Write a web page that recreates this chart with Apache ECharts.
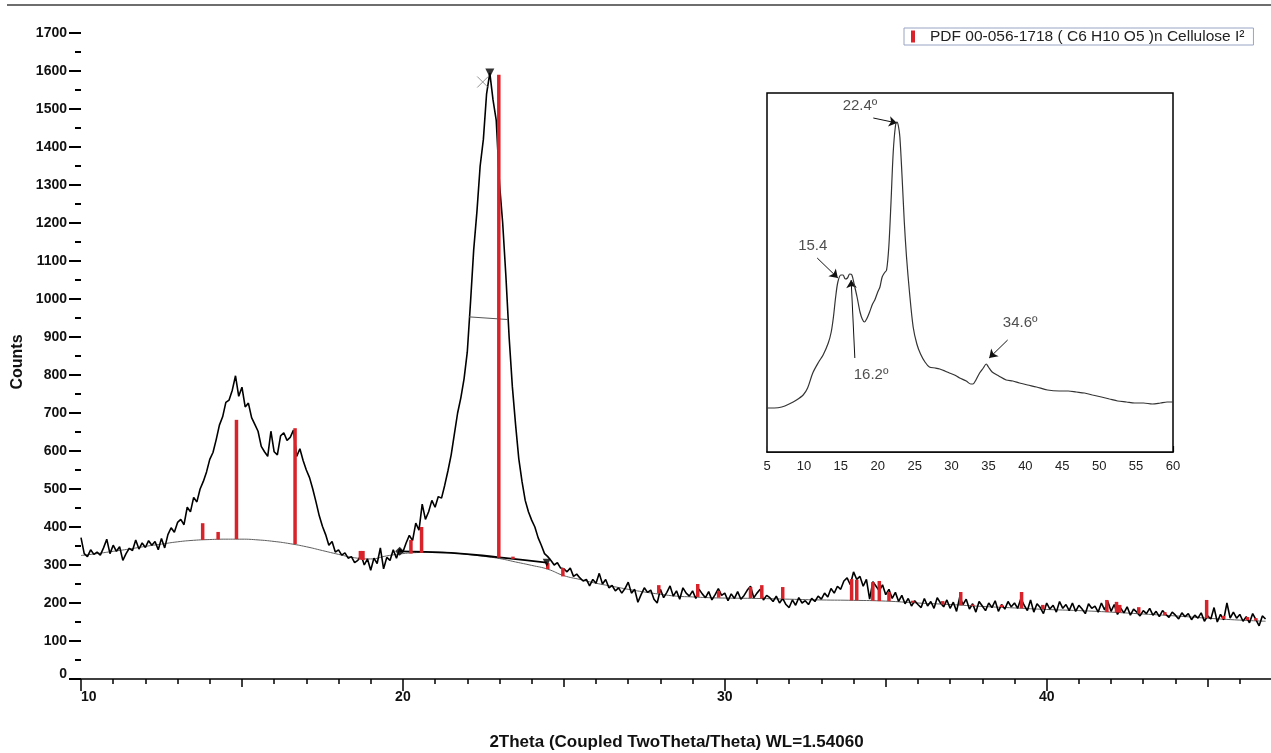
<!DOCTYPE html>
<html><head><meta charset="utf-8">
<script src="https://cdn.jsdelivr.net/npm/echarts@6/dist/echarts.min.js"></script>
<style>html,body{margin:0;padding:0;background:#fff}#c{width:1271px;height:753px}</style>
</head><body><div id="c"></div>
<script>
// ---- main XRD scan: [2theta, counts]
const xrdData = [
[10.0,372],[10.1,330],[10.2,322],[10.3,340],[10.4,328],[10.5,334],[10.6,326],[10.7,345],[10.8,368],[10.9,330],
[11.0,352],[11.1,336],[11.2,348],[11.3,312],[11.4,330],[11.5,344],[11.6,338],[11.7,366],[11.8,342],[11.9,358],
[12.0,346],[12.1,364],[12.2,352],[12.3,362],[12.4,340],[12.5,370],[12.6,345],[12.7,380],[12.8,398],[12.9,386],
[13.0,412],[13.1,420],[13.2,406],[13.3,452],[13.4,440],[13.5,478],[13.6,466],[13.7,500],[13.8,520],[13.9,545],
[14.0,578],[14.1,596],[14.2,630],[14.3,668],[14.4,690],[14.5,728],[14.6,734],[14.7,760],[14.8,798],[14.9,744],
[15.0,768],[15.1,716],[15.2,726],[15.3,688],[15.4,670],[15.5,652],[15.6,612],[15.7,598],[15.8,586],[15.9,652],
[16.0,598],[16.1,590],[16.2,640],[16.3,648],[16.4,628],[16.5,636],[16.6,655],[16.7,586],[16.8,606],[16.9,575],
[17.0,550],[17.1,530],[17.2,500],[17.3,466],[17.4,430],[17.5,402],[17.6,380],[17.7,352],[17.8,362],[17.9,334],
[18.0,340],[18.1,326],[18.2,332],[18.3,318],[18.4,322],[18.5,306],[18.6,312],[18.7,326],[18.8,300],[18.9,316],
[19.0,286],[19.1,318],[19.2,304],[19.3,345],[19.4,290],[19.5,320],[19.6,312],[19.7,340],[19.8,318],[19.9,342],
[20.0,334],[20.1,358],[20.2,378],[20.3,364],[20.4,410],[20.5,392],[20.6,460],[20.7,420],[20.8,440],[20.9,470],
[21.0,452],[21.1,480],[21.2,476],[21.3,510],[21.4,548],[21.5,590],[21.6,645],[21.7,700],[21.8,740],[21.9,790],
[22.0,860],[22.1,990],[22.2,1130],[22.3,1230],[22.4,1350],[22.5,1420],[22.6,1540],[22.7,1595],[22.8,1524],[22.9,1470],
[23.0,1305],[23.1,1200],[23.2,1060],[23.3,900],[23.4,770],[23.5,670],[23.6,580],[23.7,520],[23.8,470],[23.9,440],
[24.0,418],[24.1,400],[24.2,372],[24.3,352],[24.4,330],[24.5,322],[24.6,312],[24.7,300],[24.8,306],[24.9,292],
[25.0,290],[25.1,282],[25.2,292],[25.3,270],[25.4,276],[25.5,266],[25.6,258],[25.7,262],[25.8,245],[25.9,262],
[26.0,252],[26.1,278],[26.2,250],[26.3,262],[26.4,240],[26.5,246],[26.6,232],[26.7,240],[26.8,226],[26.9,238],
[27.0,255],[27.1,226],[27.2,236],[27.3,202],[27.4,222],[27.5,240],[27.6,228],[27.7,234],[27.8,210],[27.9,200],
[28.0,236],[28.1,214],[28.2,228],[28.3,245],[28.4,218],[28.5,232],[28.6,210],[28.7,240],[28.8,226],[28.9,218],
[29.0,232],[29.1,212],[29.2,236],[29.3,224],[29.4,214],[29.5,230],[29.6,208],[29.7,222],[29.8,238],[29.9,220],
[30.0,226],[30.1,206],[30.2,224],[30.3,212],[30.4,230],[30.5,210],[30.6,220],[30.7,234],[30.8,244],[30.9,214],
[31.0,226],[31.1,236],[31.2,208],[31.3,220],[31.4,214],[31.5,204],[31.6,218],[31.7,200],[31.8,212],[31.9,196],
[32.0,188],[32.1,208],[32.2,194],[32.3,214],[32.4,200],[32.5,206],[32.6,196],[32.7,212],[32.8,204],[32.9,218],
[33.0,210],[33.1,226],[33.2,216],[33.3,238],[33.4,226],[33.5,244],[33.6,236],[33.7,258],[33.8,266],[33.9,248],
[34.0,282],[34.1,262],[34.2,270],[34.3,244],[34.4,262],[34.5,210],[34.6,256],[34.7,244],[34.8,232],[34.9,248],
[35.0,222],[35.1,236],[35.2,212],[35.3,228],[35.4,204],[35.5,220],[35.6,198],[35.7,212],[35.8,192],[35.9,206],
[36.0,196],[36.1,188],[36.2,212],[36.3,192],[36.4,204],[36.5,186],[36.6,214],[36.7,200],[36.8,190],[36.9,208],
[37.0,186],[37.1,202],[37.2,178],[37.3,216],[37.4,196],[37.5,210],[37.6,184],[37.7,198],[37.8,176],[37.9,204],
[38.0,192],[38.1,180],[38.2,200],[38.3,188],[38.4,206],[38.5,178],[38.6,196],[38.7,184],[38.8,204],[38.9,190],
[39.0,200],[39.1,186],[39.2,212],[39.3,194],[39.4,180],[39.5,208],[39.6,176],[39.7,198],[39.8,188],[39.9,172],
[40.0,200],[40.1,184],[40.2,194],[40.3,176],[40.4,204],[40.5,186],[40.6,196],[40.7,180],[40.8,200],[40.9,178],
[41.0,194],[41.1,184],[41.2,172],[41.3,198],[41.4,186],[41.5,192],[41.6,176],[41.7,200],[41.8,182],[41.9,204],
[42.0,178],[42.1,196],[42.2,170],[42.3,186],[42.4,174],[42.5,190],[42.6,168],[42.7,184],[42.8,176],[42.9,166],
[43.0,180],[43.1,172],[43.2,186],[43.3,168],[43.4,178],[43.5,164],[43.6,180],[43.7,170],[43.8,162],[43.9,176],
[44.0,168],[44.1,158],[44.2,174],[44.3,164],[44.4,172],[44.5,156],[44.6,168],[44.7,160],[44.8,174],[44.9,152],
[45.0,166],[45.1,158],[45.2,188],[45.3,150],[45.4,170],[45.5,156],[45.6,200],[45.7,160],[45.8,176],[45.9,160],
[46.0,170],[46.1,152],[46.2,164],[46.3,148],[46.4,172],[46.5,156],[46.6,140],[46.7,166],[46.8,158]
];

// ---- fitted background
const backgroundCurve = [[10,325],[10.5,330],[11,336],[11.5,342],[12,349],[12.5,355],[13,361],[13.5,365],[14,367],[14.5,368],[15,368],[15.5,366],[16,362],[16.5,356],[17,348],[17.5,338],[18,328],[18.5,319],[19,316],[19.5,324],[20,330],[20.5,333],[21,334],[21.5,332],[22,328],[22.5,323],[23,317],[23.5,308],[24,299],[24.5,289],[25,272],[25.5,262],[26,252],[26.5,244],[27,236],[27.5,229],[28,223],[28.5,218],[29,216],[29.5,214],[30,213],[31,212],[32,210],[33,208],[34,207],[35,205],[36,200],[37,196],[38,191],[39,187],[40,183],[41,180],[42,176],[43,171],[44,166],[45,160],[46,155],[46.8,152]];

// ---- peak-area baseline segment
const peakBaseline = [[19.9,336],[21.5,332],[23.0,320],[24.47,306]];
// ---- FWHM line of main peak
const fwhmLine = [[22.05,953],[23.26,946]];
// ---- peak markers
const peakCross = [[22.48,1571]];
const peakTop = [[22.7,1595]];

// ---- PDF reference sticks: [2theta, base, top]
const pdfName = 'PDF 00-056-1718 ( C6 H10 O5 )n Cellulose I²';
const pdfSticks = [
[13.78,366,410],[14.26,367,387],[14.83,368,682],[16.65,355,660],[18.68,314,337],[18.76,313,337],
[20.25,330,366],[20.58,332,400],[22.98,319,1590],[23.42,316,322],[24.50,289,305],[24.97,270,292],
[27.95,225,247],[29.16,216,250],[29.81,214,232],[30.80,213,242],[31.15,212,247],[31.80,211,242],
[33.94,207,263],[34.10,207,261],[34.60,206,255],[34.80,205,258],[35.10,205,229],[35.84,201,206],
[36.77,196,205],[37.33,194,229],[37.70,192,196],[38.60,189,195],[39.22,186,229],[39.88,184,195],
[41.87,176,208],[42.17,175,203],[42.27,175,195],[42.86,172,189],[43.67,168,176],[44.97,160,208],
[45.50,158,166],[46.24,155,163],[46.50,154,160]
];

// ---- inset (Celulosa) curve, arbitrary intensity units
const insetCurve = [[5,44],[6,44],[7,45],[8,48],[9,52],[9.9,57],[10.5,64],[11.2,79],[12,90],[12.6,97],[13.3,109],[13.7,120],[14,135],[14.3,155],[14.6,170],[15.0,177],[15.3,177],[15.6,173],[15.9,174],[16.2,178],[16.5,177],[16.8,168],[17.2,155],[17.6,140],[17.9,133],[18.2,130],[18.5,133],[18.9,140],[19.3,148],[19.6,152],[20.0,160],[20.3,165],[20.6,175],[20.9,179],[21.2,182],[21.5,205],[21.8,250],[22.1,300],[22.4,326],[22.6,330],[22.8,326],[23.0,315],[23.3,275],[23.6,230],[23.9,195],[24.3,160],[24.8,125],[25.3,108],[25.8,98],[26.4,90],[27.0,85],[27.8,84],[28.4,83],[29.1,81],[29.7,79],[30.4,77],[31.1,74],[32.0,71],[32.6,68],[32.9,68],[33.3,72],[33.8,79],[34.3,84],[34.7,88],[35.0,85],[35.5,80],[36.4,76],[37.4,72],[38.3,71],[39.2,69],[40.3,67],[41.5,65],[43,62],[44.6,61],[45.8,61],[46.9,60],[48,59],[49.1,57],[50.3,55],[51.4,53],[52.5,51],[53.7,50],[54.8,49],[56,49],[57.2,48],[58.3,49],[59.2,50],[60,50]];
const insetLabels = [['22.4º',17.6,346],['15.4',11.2,206],['16.2º',19.1,77],['34.6º',39.3,129]];
const insetArrows = [[19.4,334,22.6,329],[11.8,194,14.6,174],[16.9,94,16.4,172],[37.6,112,35.1,94]];

// ---- axis texts
const xTitle = '2Theta (Coupled TwoTheta/Theta) WL=1.54060';
const yTitle = 'Counts';
const insetTitle = 'Celulosa';

const FONT = "'Liberation Sans', Arial, sans-serif";
const chart = echarts.init(document.getElementById('c'), null, {renderer:'canvas'});

const option = {
  animation: false,
  backgroundColor: '#fff',
  legend: {
    data: [pdfName], selectedMode: false,
    left: 904, top: 28, orient: 'horizontal',
    icon: 'rect', itemWidth: 4, itemHeight: 12,
    padding: [0, 9, 0, 7], borderColor: '#9aa4c4', borderWidth: 1, backgroundColor: '#fff',
    textStyle: {fontFamily: FONT, fontSize: 15.5, color: '#222', lineHeight: 17, padding: [0,0,0,10]}
  },
  grid: [
    {left: 81, right: -1, top: 33, bottom: 74, containLabel: false, outerBoundsMode: 'none'},
    {left: 767, width: 406, top: 93, height: 359, show: true, borderColor: '#000', borderWidth: 1.5, backgroundColor: '#fff', z: 5,
      containLabel: false, outerBoundsMode: 'none'}
  ],
  xAxis: [
    {type: 'value', gridIndex: 0, position: 'bottom', min: 10, max: 47, interval: 5,
      axisLine: {show: true, lineStyle: {color: '#000', width: 1.5}},
      axisTick: {show: true, inside: false, length: 8, lineStyle: {color: '#000', width: 1.5}},
      minorTick: {show: true, splitNumber: 5, length: 5, lineStyle: {color: '#000', width: 1.5}},
      splitLine: {show: false},
      axisLabel: {show: true, fontFamily: FONT, fontSize: 14, fontWeight: 'bold', color: '#111', margin: 11,
        alignMinLabel: 'left', showMaxLabel: false,
        formatter: v => (Math.abs(v % 10) < 1e-6 ? String(v) : '')},
      name: xTitle, nameLocation: 'middle', nameGap: 55,
      nameTextStyle: {fontFamily: FONT, fontSize: 17, fontWeight: 'bold', color: '#111'}
    },
    {type: 'value', gridIndex: 0, position: 'bottom', offset: 0, min: 10, max: 47, interval: 10,
      axisLine: {show: false}, axisLabel: {show: false}, splitLine: {show: false},
      axisTick: {show: true, inside: false, length: 12, lineStyle: {color: '#000', width: 1.5}}
    },
    {type: 'value', gridIndex: 1, position: 'bottom', min: 5, max: 60, interval: 5,
      axisLine: {show: true, lineStyle: {color: '#000', width: 1.5}},
      axisTick: {show: true, inside: true, length: 6, lineStyle: {color: '#000', width: 1.2}},
      splitLine: {show: false},
      axisLabel: {fontFamily: FONT, fontSize: 13, color: '#222', margin: 8}
    }
  ],
  yAxis: [
    {type: 'value', gridIndex: 0, min: 0, max: 1700, interval: 100,
      axisLine: {show: false},
      axisTick: {show: true, inside: false, length: 12, lineStyle: {color: '#000', width: 2}},
      minorTick: {show: true, splitNumber: 2, length: 6, lineStyle: {color: '#000', width: 2}},
      splitLine: {show: false},
      axisLabel: {fontFamily: FONT, fontSize: 14, fontWeight: 'bold', color: '#111', margin: 14,
        formatter: v => (v === 0 ? '{z|0}' : String(v)),
        rich: {z: {fontFamily: FONT, fontSize: 14, fontWeight: 'bold', color: '#111', padding: [0,0,10,0]}}}
    },
    {type: 'value', gridIndex: 1, min: 0, max: 359, show: false}
  ],
  series: [
    {type: 'line', name: 'bg', xAxisIndex: 0, yAxisIndex: 0, data: backgroundCurve, smooth: true,
      showSymbol: false, symbol: 'none', lineStyle: {color: '#5e5e5e', width: 1}, z: 1, silent: true},
    {type: 'line', name: 'scan', xAxisIndex: 0, yAxisIndex: 0, data: xrdData,
      showSymbol: false, symbol: 'none', lineStyle: {color: '#000', width: 1.6}, z: 2, silent: true},
    {type: 'line', name: 'fwhm', xAxisIndex: 0, yAxisIndex: 0, data: fwhmLine,
      showSymbol: false, symbol: 'none', lineStyle: {color: '#555', width: 1}, z: 2, silent: true},
    {type: 'line', name: 'peakbase', xAxisIndex: 0, yAxisIndex: 0, data: peakBaseline, smooth: true,
      showSymbol: false, symbol: 'none', lineStyle: {color: '#000', width: 1.8}, z: 3, silent: true},
    {type: 'custom', name: pdfName, xAxisIndex: 0, yAxisIndex: 0, data: pdfSticks, z: 4, silent: true,
      itemStyle: {color: '#d8232a'},
      encode: {x: 0, y: [1, 2]},
      renderItem: function (params, api) {
        const x = api.value(0), b = api.value(1), t = api.value(2);
        const p1 = api.coord([x, b]);
        const p2 = api.coord([x, t]);
        const w = 3.5;
        return {type: 'rect', shape: {x: p1[0] - w / 2, y: p2[1], width: w, height: Math.max(1, p1[1] - p2[1])},
          style: {fill: '#d8232a'}};
      }
    },
    {type: 'scatter', name: 'startMark', xAxisIndex: 0, yAxisIndex: 0, data: [peakBaseline[0]], symbol: 'diamond', symbolSize: 9,
      itemStyle: {color: '#000'}, z: 5, silent: true},
    {type: 'scatter', name: 'endMark', xAxisIndex: 0, yAxisIndex: 0, data: [peakBaseline[peakBaseline.length - 1]], symbol: 'triangle', symbolSize: 8, symbolRotate: 180,
      itemStyle: {color: '#000'}, z: 5, silent: true},
    {type: 'scatter', name: 'cross', xAxisIndex: 0, yAxisIndex: 0, data: peakCross, symbol: 'path://M0,0L10,10M10,0L0,10', symbolSize: 11,
      itemStyle: {color: 'transparent', borderColor: '#777', borderWidth: 1}, z: 5, silent: true},
    {type: 'scatter', name: 'top', xAxisIndex: 0, yAxisIndex: 0, data: peakTop, symbol: 'triangle', symbolSize: 9, symbolRotate: 180,
      itemStyle: {color: '#000'}, z: 6, silent: true},
    {type: 'line', name: 'inset', xAxisIndex: 2, yAxisIndex: 1, data: insetCurve, smooth: 0.3,
      showSymbol: false, symbol: 'none', lineStyle: {color: '#333', width: 1.2}, z: 6, silent: true,
      markLine: {silent: true, symbol: ['none', 'arrow'], symbolSize: 8, animation: false,
        label: {show: false}, lineStyle: {color: '#111', width: 1, type: 'solid'},
        data: insetArrows.map(a => [{coord: [a[0], a[1]]}, {coord: [a[2], a[3]]}])}
    },
    {type: 'scatter', name: 'insetLabels', xAxisIndex: 2, yAxisIndex: 1, symbolSize: 0, z: 7, silent: true,
      data: insetLabels.map(l => ({name: l[0], value: [l[1], l[2]]})),
      label: {show: true, position: 'inside', formatter: '{b}', fontFamily: FONT, fontSize: 15, color: '#222'}
    }
  ],
  graphic: [
    {type: 'line', shape: {x1: 7, y1: 5, x2: 1271, y2: 5}, style: {stroke: '#6e6e6e', lineWidth: 2}, silent: true},
    {type: 'text', x: 18, y: 362, rotation: Math.PI / 2, silent: true,
      style: {text: yTitle, fontFamily: FONT, fontSize: 16, fontWeight: 'bold', fill: '#111', align: 'center', verticalAlign: 'middle'}},
    {type: 'group', left: 1012, top: 112, z: 100, children: [
      {type: 'rect', shape: {x: 0, y: 0, width: 69, height: 23}, style: {fill: '#fff', stroke: '#555', lineWidth: 1}},
      {type: 'text', x: 34.5, y: 12, style: {text: insetTitle, fontFamily: FONT, fontSize: 15, fill: '#222', align: 'center', verticalAlign: 'middle'}}
    ]}
  ]
};
chart.setOption(option);
</script></body></html>
